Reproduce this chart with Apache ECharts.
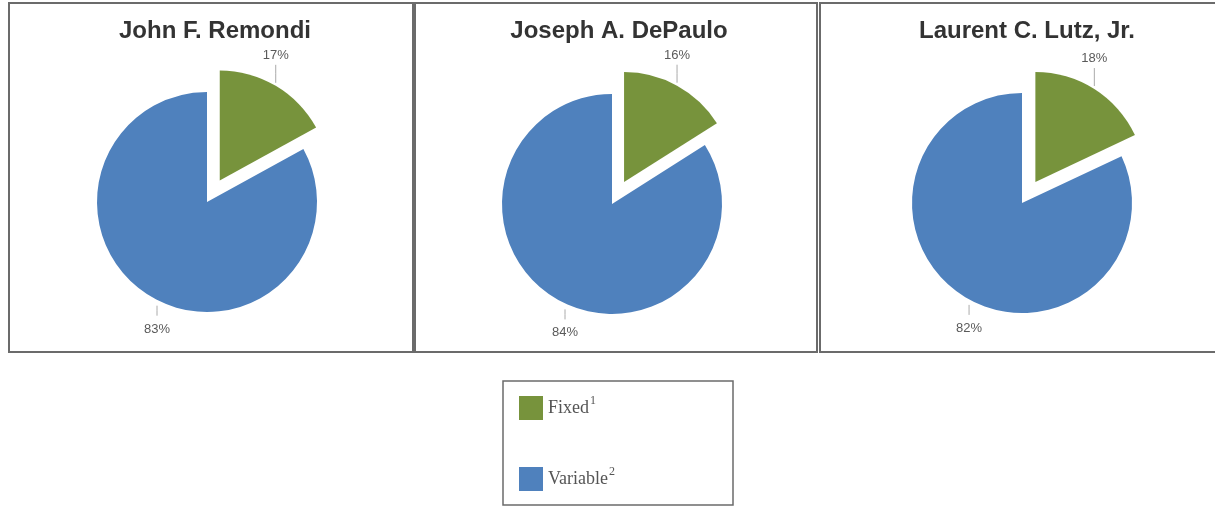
<!DOCTYPE html>
<html><head><meta charset="utf-8">
<script src="https://cdn.jsdelivr.net/npm/echarts@6/dist/echarts.min.js"></script>
<style>html,body{margin:0;padding:0;background:#fff}#c{width:1215px;height:507px}</style>
</head><body><div id="c"></div>
<script>
const executives = ['John F. Remondi', 'Joseph A. DePaulo', 'Laurent C. Lutz, Jr.'];
const categories = ['Fixed', 'Variable'];
const fixedPct = [17, 16, 18];
const variablePct = [83, 84, 82];
const footnotes = ['1', '2'];

const colors = ['#77933c', '#4f81bd'];
const centers = [[207, 202], [612, 204], [1022, 203]];
const titleX = [210, 614, 1022];
const panels = [[9, 3, 404, 349], [415, 3, 402, 349], [820, 3, 396, 349]];
const RADIUS = 110;
const OFFSET = 25;

const chart = echarts.init(document.getElementById('c'));

function pieData(i) {
  return [
    { name: categories[0], value: fixedPct[i], selected: true, itemStyle: { color: colors[0] } },
    { name: categories[1], value: variablePct[i], itemStyle: { color: colors[1] } }
  ];
}

// visible pies (exploded "Fixed" slice)
const pies = executives.map((name, i) => ({
  type: 'pie',
  name: name,
  center: centers[i],
  radius: RADIUS,
  startAngle: 90,
  clockwise: true,
  selectedMode: 'single',
  selectedOffset: OFFSET,
  animation: false,
  emphasis: { disabled: true },
  itemStyle: { borderWidth: 0 },
  label: { show: false },
  labelLine: { show: false },
  data: pieData(i)
}));

// transparent twin pies carrying the percentage labels
const labelPies = executives.map((name, i) => ({
  type: 'pie',
  name: name + ' labels',
  center: centers[i],
  radius: RADIUS,
  startAngle: 90,
  clockwise: true,
  selectedMode: false,
  silent: true,
  animation: false,
  emphasis: { disabled: true },
  itemStyle: { color: 'rgba(0,0,0,0)', borderWidth: 0 },
  label: {
    show: true,
    position: 'outside',
    formatter: '{c}%',
    fontFamily: 'Liberation Sans, Arial, sans-serif',
    fontSize: 13,
    color: '#5a5a5a'
  },
  labelLine: { show: true, length: 10, length2: 0, lineStyle: { color: '#aaa', width: 1 } },
  labelLayout: function (p) {
    const pts = p.labelLinePoints;
    if (!pts) return {};
    let p0 = pts[0].slice();
    const c = centers[i];
    if (p.dataIndex === 0) {
      const dx = p0[0] - c[0], dy = p0[1] - c[1];
      const d = Math.sqrt(dx * dx + dy * dy) || 1;
      p0 = [p0[0] + OFFSET * dx / d, p0[1] + OFFSET * dy / d];
    }
    const r = p.labelRect;
    const up = p0[1] < c[1];
    const ax = up ? p0[0] : p0[0] + 6;
    const start = up ? [ax, p0[1] - 3] : [ax, p0[1] + 9];
    const end = up ? [ax, p0[1] - 21] : [ax, p0[1] + 19];
    const top = up ? end[1] - 3 - r.height : end[1] + 7;
    return {
      x: ax - r.width / 2,
      y: top,
      align: 'left',
      verticalAlign: 'top',
      labelLinePoints: [start, [ax, (start[1] + end[1]) / 2], end]
    };
  },
  data: pieData(i).map(d => ({ name: d.name, value: d.value }))
}));

const titles = executives.map((name, i) => ({
  text: name,
  left: titleX[i],
  top: 14,
  textAlign: 'center',
  textStyle: { fontFamily: 'Liberation Sans, Arial, sans-serif', fontSize: 24, fontWeight: 'bold', color: '#333' }
}));

const graphics = panels.map(p => ({
  type: 'rect', silent: true, z: -1,
  shape: { x: p[0], y: p[1], width: p[2], height: p[3] },
  style: { fill: 'none', stroke: '#6b6b6b', lineWidth: 2 }
}));
graphics.push({
  type: 'rect', silent: true, z: -1,
  shape: { x: 503, y: 381, width: 230, height: 124 },
  style: { fill: 'none', stroke: '#6b6b6b', lineWidth: 1.5 }
});

chart.setOption({
  backgroundColor: '#fff',
  title: titles,
  color: colors,
  legend: {
    data: categories,
    orient: 'vertical',
    left: 504,
    top: 381,
    padding: [14, 10, 10, 15],
    itemWidth: 24,
    itemHeight: 24,
    itemGap: 46,
    icon: 'rect',
    selectedMode: false,
    formatter: name => name + '{sup|' + footnotes[categories.indexOf(name)] + '}',
    textStyle: {
      fontFamily: 'Liberation Serif, Times New Roman, serif',
      fontSize: 18,
      color: '#555',
      rich: {
        sup: { fontFamily: 'Liberation Serif, serif', fontSize: 12, color: '#555', verticalAlign: 'top', padding: [0, 0, 14, 1] }
      }
    }
  },
  graphic: graphics,
  series: pies.concat(labelPies)
});
</script></body></html>
